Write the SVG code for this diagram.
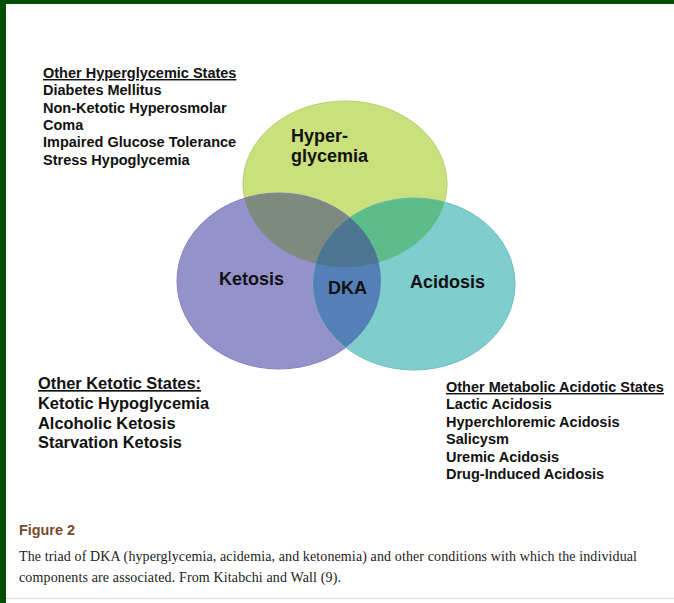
<svg xmlns="http://www.w3.org/2000/svg" width="674" height="603" viewBox="0 0 674 603">
<style>
.lbl{font-family:"Liberation Sans",Arial,sans-serif;font-weight:bold;fill:#111}
.big{font-size:18px}
.list{font-size:14.5px}
.list2{font-size:16.4px}
.hd{text-decoration:underline}
.cap{font-family:"Liberation Serif","Times New Roman",serif;font-size:14px;fill:#222}
.fig{font-family:"Liberation Sans",Arial,sans-serif;font-weight:bold;font-size:14.4px;fill:#7a4a2c}
</style>
<defs>
<clipPath id="cY"><ellipse cx="345" cy="184" rx="102" ry="83"/></clipPath>
<clipPath id="cP"><ellipse cx="279" cy="281" rx="102" ry="88"/></clipPath>
<clipPath id="cT"><ellipse cx="414" cy="284" rx="101" ry="86"/></clipPath>
</defs>
<rect x="0" y="0" width="674" height="603" fill="#ffffff"/>
<rect x="0" y="0" width="674" height="4" fill="#064d06"/>
<rect x="0" y="0" width="6" height="603" fill="#064d06"/>
<line x1="6" y1="598.5" x2="674" y2="598.5" stroke="#dddddd" stroke-width="1"/>

<g id="hyperglycemia">
<ellipse cx="345" cy="184" rx="102" ry="83" fill="#c9e07c" stroke="#b8d06c" stroke-width="1"/>
</g>
<g id="ketosis">
<ellipse cx="279" cy="281" rx="102" ry="88" fill="#9591ca" stroke="#8681bd" stroke-width="1"/>
</g>
<g id="acidosis">
<ellipse cx="414" cy="284" rx="101" ry="86" fill="#7fcdcc" stroke="#6fbdbd" stroke-width="1"/>
</g>
<g id="overlaps">
<ellipse cx="279" cy="281" rx="102" ry="88" fill="#7e8a80" clip-path="url(#cY)"/>
<ellipse cx="414" cy="284" rx="101" ry="86" fill="#5dbd8a" clip-path="url(#cY)"/>
<ellipse cx="414" cy="284" rx="101" ry="86" fill="#5580b7" clip-path="url(#cP)"/>
<g clip-path="url(#cY)">
<ellipse cx="414" cy="284" rx="101" ry="86" fill="#4b7590" clip-path="url(#cP)"/>
</g>
</g>

<g id="labels-venn">
<text class="lbl big" x="291" y="142">Hyper-</text>
<text class="lbl big" x="291" y="162">glycemia</text>
<text class="lbl big" x="219" y="285">Ketosis</text>
<text class="lbl big" x="328" y="294">DKA</text>
<text class="lbl big" x="410" y="288">Acidosis</text>
</g>

<g id="hyperglycemic-states">
<text class="lbl list hd" x="43" y="78">Other Hyperglycemic States</text>
<text class="lbl list" x="43" y="95.3">Diabetes Mellitus</text>
<text class="lbl list" x="43" y="112.6">Non-Ketotic Hyperosmolar</text>
<text class="lbl list" x="43" y="130">Coma</text>
<text class="lbl list" x="43" y="147.3">Impaired Glucose Tolerance</text>
<text class="lbl list" x="43" y="164.6">Stress Hypoglycemia</text>
</g>

<g id="ketotic-states">
<text class="lbl list2 hd" x="38" y="389">Other Ketotic States:</text>
<text class="lbl list2" x="38" y="409">Ketotic Hypoglycemia</text>
<text class="lbl list2" x="38" y="428.5">Alcoholic Ketosis</text>
<text class="lbl list2" x="38" y="448">Starvation Ketosis</text>
</g>

<g id="acidotic-states">
<text class="lbl list hd" x="446" y="392">Other Metabolic Acidotic States</text>
<text class="lbl list" x="446" y="409.4">Lactic Acidosis</text>
<text class="lbl list" x="446" y="426.8">Hyperchloremic Acidosis</text>
<text class="lbl list" x="446" y="444.2">Salicysm</text>
<text class="lbl list" x="446" y="461.6">Uremic Acidosis</text>
<text class="lbl list" x="446" y="479">Drug-Induced Acidosis</text>
</g>

<g id="caption">
<text class="fig" x="19" y="535">Figure 2</text>
<text class="cap" x="19" y="561" textLength="618" lengthAdjust="spacing">The triad of DKA (hyperglycemia, acidemia, and ketonemia) and other conditions with which the individual</text>
<text class="cap" x="19" y="582" textLength="322" lengthAdjust="spacing">components are associated. From Kitabchi and Wall (9).</text>
</g>
</svg>
